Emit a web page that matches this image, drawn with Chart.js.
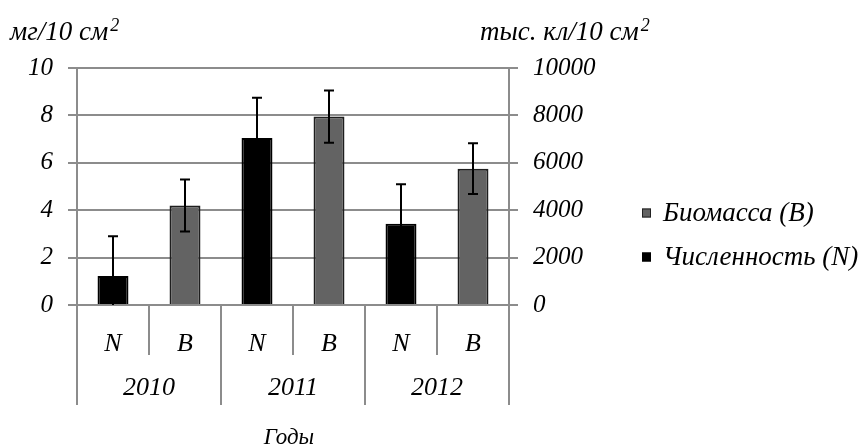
<!DOCTYPE html>
<html>
<head>
<meta charset="utf-8">
<script src="https://cdn.jsdelivr.net/npm/chart.js@4.4.1/dist/chart.umd.min.js"></script>
<style>
html,body{margin:0;padding:0;background:#fff;}
#wrap{width:858px;height:445px;position:relative;}
</style>
</head>
<body>
<div id="wrap"><canvas id="c" width="858" height="445"></canvas></div>
<script>
// ---- data ----
const categories = ['N','B','N','B','N','B'];
const years = ['2010','2011','2012'];
const biomass = [null, 4.2, null, 7.95, null, 5.75];
const biomassErr = [null, 1.1, null, 1.1, null, 1.07];
const numbers = [1220, null, 7050, null, 3430, null];
const numbersErr = [1680, null, 1700, null, 1670, null];
const leftTicks = [0, 2, 4, 6, 8, 10];
const rightTicks = [0, 2000, 4000, 6000, 8000, 10000];
const leftTitle = 'мг/10 см';
const rightTitle = 'тыс. кл/10 см';
const xTitle = 'Годы';
const seriesNames = ['Биомасса (B)', 'Численность (N)'];

const FONT = '"Liberation Serif", "Times New Roman", serif';
const GRID = '#8c8c8c';

const errorBars = {
  id: 'errorBars',
  afterDatasetsDraw(chart) {
    const ctx = chart.ctx;
    const errs = [biomassErr, numbersErr];
    chart.data.datasets.forEach((ds, di) => {
      const meta = chart.getDatasetMeta(di);
      const scale = chart.scales[ds.yAxisID];
      ds.data.forEach((v, i) => {
        if (v == null) return;
        const e = errs[di][i];
        const x = meta.data[i].x;
        const yt = scale.getPixelForValue(v + e);
        const yb = scale.getPixelForValue(Math.max(0, v - e));
        ctx.save();
        ctx.strokeStyle = '#000';
        ctx.lineWidth = 2;
        ctx.beginPath();
        ctx.moveTo(x, yt); ctx.lineTo(x, yb);
        ctx.moveTo(x - 5, yt); ctx.lineTo(x + 5, yt);
        if (v - e > 0) { ctx.moveTo(x - 5, yb); ctx.lineTo(x + 5, yb); }
        ctx.stroke();
        ctx.restore();
      });
    });
  }
};

const decor = {
  id: 'decor',
  afterDraw(chart) {
    const ctx = chart.ctx;
    const xs = chart.scales.x;
    const area = chart.chartArea;
    const step = xs.getPixelForValue(1) - xs.getPixelForValue(0);
    ctx.save();
    // separators
    ctx.strokeStyle = GRID;
    ctx.lineWidth = 2;
    ctx.beginPath();
    for (let i = 0; i <= categories.length; i++) {
      const x = Math.round(xs.getPixelForValue(i) - step / 2);
      const long = (i % 2 === 0);
      ctx.moveTo(x, area.bottom);
      ctx.lineTo(x, area.bottom + (long ? 100 : 50));
    }
    ctx.stroke();
    ctx.fillStyle = '#000';
    ctx.textAlign = 'center';
    ctx.textBaseline = 'middle';
    ctx.font = 'italic 26px ' + FONT;
    categories.forEach((c, i) => ctx.fillText(c, xs.getPixelForValue(i), area.bottom + 39));
    years.forEach((y, i) => {
      const x = (xs.getPixelForValue(2 * i) + xs.getPixelForValue(2 * i + 1)) / 2;
      ctx.fillText(y, x, area.bottom + 83);
    });
    ctx.textBaseline = 'alphabetic';
    ctx.font = 'italic 23px ' + FONT;
    ctx.fillText(xTitle, (area.left + area.right) / 2 - 4, 444);
    // axis titles
    ctx.textAlign = 'left';
    ctx.font = 'italic 27px ' + FONT;
    ctx.fillText(leftTitle, 10, 40);
    let w = ctx.measureText(leftTitle).width;
    ctx.font = 'italic 18px ' + FONT;
    ctx.fillText('2', 10 + w + 2, 31);
    ctx.font = 'italic 27px ' + FONT;
    ctx.fillText(rightTitle, 480, 40);
    w = ctx.measureText(rightTitle).width;
    ctx.font = 'italic 18px ' + FONT;
    ctx.fillText('2', 480 + w + 2, 31);
    // legend
    const items = [
      {name: seriesNames[0], fill: '#636363', stroke: '#222', y: 213},
      {name: seriesNames[1], fill: '#000', stroke: '#000', y: 257}
    ];
    ctx.font = 'italic 27px ' + FONT;
    ctx.textBaseline = 'middle';
    items.forEach(it => {
      ctx.fillStyle = it.fill;
      ctx.fillRect(642, it.y - 4.5, 9, 9);
      ctx.strokeStyle = it.stroke;
      ctx.lineWidth = 1;
      ctx.strokeRect(642.5, it.y - 4, 8, 8);
      ctx.fillStyle = '#000';
      ctx.fillText(it.name, 663, it.y + 1);
    });
    ctx.restore();
  }
};

new Chart(document.getElementById('c'), {
  type: 'bar',
  data: {
    labels: categories,
    datasets: [
      {
        label: seriesNames[0], data: biomass, yAxisID: 'y',
        backgroundColor: '#636363', borderColor: '#1e1e1e', borderWidth: 2,
        grouped: false, barPercentage: 0.43, categoryPercentage: 1
      },
      {
        label: seriesNames[1], data: numbers, yAxisID: 'y2',
        backgroundColor: '#000', borderColor: '#000', borderWidth: 2,
        grouped: false, barPercentage: 0.43, categoryPercentage: 1
      }
    ]
  },
  options: {
    responsive: false,
    animation: false,
    layout: {padding: {top: 68, left: 0, right: 0, bottom: 0}},
    plugins: {legend: {display: false}, tooltip: {enabled: false}},
    scales: {
      x: {
        ticks: {display: false},
        grid: {display: false},
        border: {display: false},
        afterFit(s) { s.height = 140; }
      },
      y: {
        position: 'left', min: 0, max: 10,
        afterBuildTicks(s) { s.ticks = leftTicks.map(v => ({value: v})); },
        ticks: {color: '#000', padding: 15, font: {family: FONT, size: 25, style: 'italic'},
                callback: v => String(v)},
        grid: {color: GRID, lineWidth: 2, tickLength: 9},
        border: {display: true, color: GRID, width: 2},
        afterFit(s) { s.width = 77; }
      },
      y2: {
        position: 'right', min: 0, max: 10000,
        afterBuildTicks(s) { s.ticks = rightTicks.map(v => ({value: v})); },
        ticks: {color: '#000', padding: 15, font: {family: FONT, size: 25, style: 'italic'},
                callback: v => String(v)},
        grid: {color: GRID, lineWidth: 2, tickLength: 9, drawOnChartArea: false},
        border: {display: true, color: GRID, width: 2},
        afterFit(s) { s.width = 349; }
      }
    }
  },
  plugins: [errorBars, decor]
});
</script>
</body>
</html>
